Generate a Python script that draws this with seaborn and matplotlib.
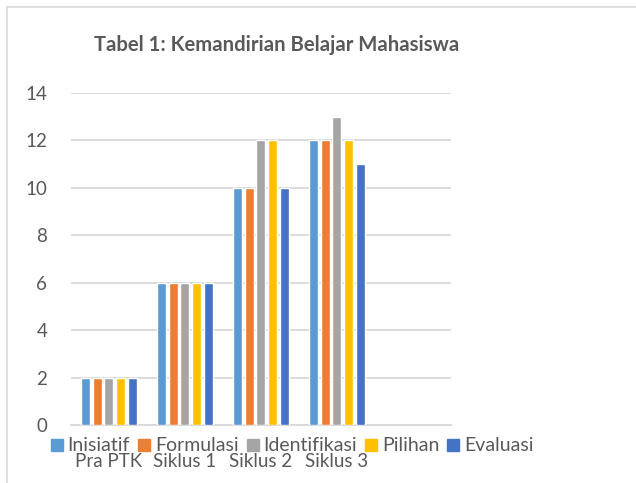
import pandas as pd
import matplotlib
matplotlib.use('Agg')
import matplotlib.pyplot as plt
import seaborn as sns
from matplotlib.lines import Line2D

# data
cycles = ['Pra PTK', 'Siklus 1', 'Siklus 2', 'Siklus 3']
aspects = ['Inisiatif', 'Formulasi', 'Identifikasi', 'Pilihan', 'Evaluasi']
inisiatif = [2, 6, 10, 12]
formulasi = [2, 6, 10, 12]
identifikasi = [2, 6, 12, 13]
pilihan = [2, 6, 12, 12]
evaluasi = [2, 6, 10, 11]
yticks = [0, 2, 4, 6, 8, 10, 12, 14]

colors = ['#5B9BD5', '#ED7D31', '#A5A5A5', '#FFC000', '#4472C4']
text_color = '#595959'
grid_color = '#D9D9D9'

rows = []
for name, vals in zip(aspects, [inisiatif, formulasi, identifikasi, pilihan, evaluasi]):
    for c, v in zip(cycles, vals):
        rows.append({'Siklus': c, 'Aspek': name, 'Nilai': v})
df = pd.DataFrame(rows)

sns.set_style('white')
plt.rcParams['font.family'] = ['Lato', 'DejaVu Sans']

fig = plt.figure(figsize=(6.36, 4.83), dpi=100)
ax = fig.add_axes([0.1116, 0.120, 0.5975, 0.6875])

sns.barplot(data=df, x='Siklus', y='Nilai', hue='Aspek', order=cycles,
            hue_order=aspects, palette=colors, saturation=1, width=0.76,
            gap=0.22, ax=ax, legend=False, zorder=3)

ax.set_xlim(-0.5, 4.5)
ax.set_ylim(0, 14)
ax.set_yticks(yticks)
ax.set_yticklabels([str(t) for t in yticks], fontsize=13.5, color=text_color)
ax.set_xticks(range(len(cycles)))
ax.set_xticklabels(cycles, fontsize=13.5, color=text_color)
ax.tick_params(axis='both', length=0)
ax.tick_params(axis='x', pad=20)
ax.tick_params(axis='y', pad=17)
ax.set_xlabel('')
ax.set_ylabel('')
ax.yaxis.grid(True, color=grid_color, linewidth=1.3, zorder=0)
ax.set_axisbelow(True)
for s in ['top', 'right', 'left']:
    ax.spines[s].set_visible(False)
ax.spines['bottom'].set_color(grid_color)
ax.spines['bottom'].set_linewidth(1.3)

ax.set_title('Tabel 1: Kemandirian Belajar Mahasiswa', fontsize=14.6,
             fontweight='bold', color=text_color, pad=30, x=0.54)

handles = [Line2D([], [], marker='s', linestyle='', markersize=8,
                  markerfacecolor=c, markeredgecolor=c) for c in colors]
fig.legend(handles, aspects, loc='center', bbox_to_anchor=(0.458, 0.077),
           ncol=5, frameon=False, fontsize=14, handletextpad=0.15,
           columnspacing=0.33, handlelength=0.8, labelcolor=text_color)

# chart border (top and left visible)
fig.add_artist(Line2D([0.011, 1.0], [0.986, 0.986], color='#D9D9D9', linewidth=1.2))
fig.add_artist(Line2D([0.011, 0.011], [0.0, 0.986], color='#D9D9D9', linewidth=1.2))

fig.savefig('out.png', dpi=100)
